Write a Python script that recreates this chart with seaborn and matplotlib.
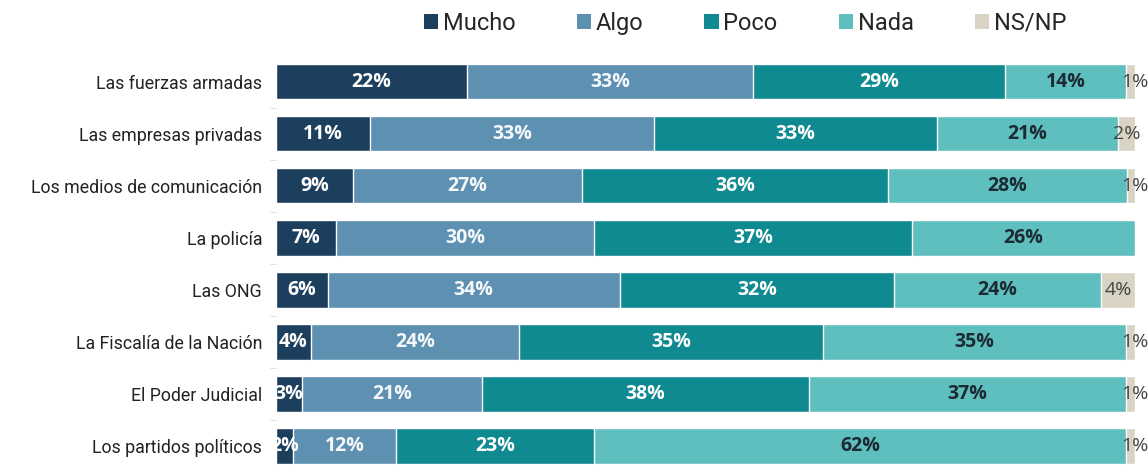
import pandas as pd
import numpy as np
import matplotlib
matplotlib.use("Agg")
import matplotlib.pyplot as plt
import seaborn as sns
from matplotlib.patches import Patch

# Datos
instituciones = ["Las fuerzas armadas", "Las empresas privadas", "Los medios de comunicación",
                 "La policía", "Las ONG", "La Fiscalía de la Nación", "El Poder Judicial",
                 "Los partidos políticos"]
categorias = ["Mucho", "Algo", "Poco", "Nada", "NS/NP"]
mucho = [22, 11, 9, 7, 6, 4, 3, 2]
algo = [33, 33, 27, 30, 34, 24, 21, 12]
poco = [29, 33, 36, 37, 32, 35, 38, 23]
nada = [14, 21, 28, 26, 24, 35, 37, 62]
nsnp = [1, 2, 1, 0, 4, 1, 1, 1]

colores = ["#1d3f5e", "#5e90b1", "#0f8a90", "#5fbfbe", "#d8d3c3"]
color_texto = ["white", "#f4f8fb", "white", "#1b2a33", "#444444"]

sns.set_style("white")
plt.rcParams['font.family'] = ['Roboto', 'DejaVu Sans']

df = pd.DataFrame({"institucion": instituciones, "Mucho": mucho, "Algo": algo,
                   "Poco": poco, "Nada": nada, "NS/NP": nsnp})
# los porcentajes están redondeados: cada fila se reescala a 100 para dibujar
total = df[categorias].sum(axis=1)
acum = df[categorias].cumsum(axis=1).div(total, axis=0) * 100

fig = plt.figure(figsize=(11.48, 4.72), dpi=100)
ax = fig.add_axes([0.2404, 0.0, 0.9887 - 0.2404, 0.882])

# barras apiladas: se dibuja del total acumulado hacia atrás
for cat, col in reversed(list(zip(categorias, colores))):
    sns.barplot(x=acum[cat], y=df["institucion"], color=col, width=0.68,
                orient="h", ax=ax, saturation=1)

# etiquetas de porcentaje
for i in range(len(instituciones)):
    for j, cat in enumerate(categorias):
        v = df.loc[i, cat]
        if v == 0:
            continue
        fin = acum.loc[i, cat]
        ancho = v * 100 / total[i]
        x = fin - ancho / 2 if v > 1 else fin
        ax.text(x, i, f"{v}%", ha="center", va="center", fontsize=14,
                family=["Open Sans", "DejaVu Sans"],
                fontweight="bold" if j < 4 else "normal", color=color_texto[j],
                clip_on=False)

ax.set_xlim(0, 100)
ax.set_ylim(7.36, -0.5)
ax.set_xlabel("")
ax.set_ylabel("")
ax.set_xticks([])
ax.set_yticks(np.arange(len(instituciones)) + 0.5, minor=True)
ax.tick_params(axis="y", which="major", length=0, pad=10, labelsize=12.8, labelcolor="#222222")
ax.tick_params(axis="y", which="minor", length=4, color="#dddddd", left=True)
sns.despine(ax=ax, left=True, bottom=True)

handles = [Patch(facecolor=c, edgecolor="none") for c in colores]
fig.legend(handles, categorias, loc="upper center", bbox_to_anchor=(0.649, 1.02), ncol=5,
           frameon=False, fontsize=17, handlelength=0.6, handleheight=0.6,
           handletextpad=0.2, columnspacing=2.6)

fig.savefig("out.png", dpi=100)
